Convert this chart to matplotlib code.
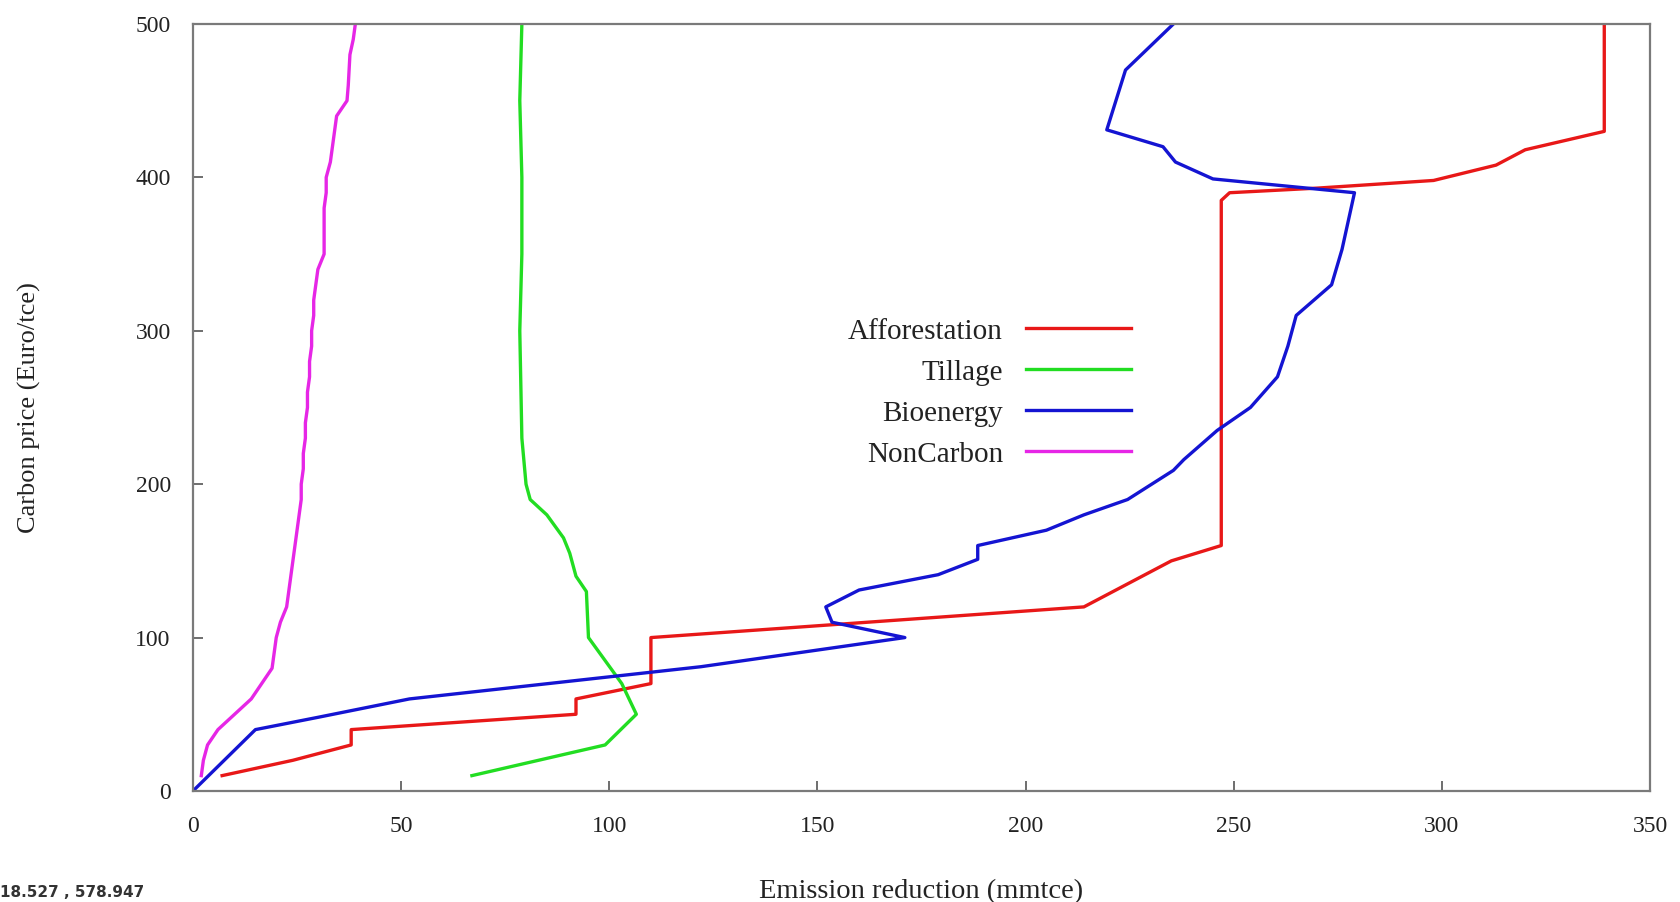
import matplotlib
matplotlib.use("Agg")
import matplotlib.pyplot as plt

plt.rcParams['font.family'] = ['Liberation Serif', 'DejaVu Serif']

# Carbon price (Euro/tce) vs emission reduction (mmtce) for each option
afforestation_x = [7, 24, 38, 38, 92, 92, 110, 110, 214, 235, 247, 247, 249, 270, 298, 313, 320, 339, 339]
afforestation_y = [10, 20, 30, 40, 50, 60, 70, 100, 120, 150, 160, 385, 390, 393, 398, 408, 418, 430, 500]

tillage_x = [67, 83, 99, 106.5, 103, 99, 95, 94.5, 92, 90.5, 89, 85, 81, 80, 79, 78.5, 79, 79, 78.5, 79]
tillage_y = [10, 20, 30, 50, 70, 85, 100, 130, 140, 155, 165, 180, 190, 200, 230, 300, 350, 400, 450, 500]

bioenergy_x = [0, 15, 30, 52, 122, 171, 153.5, 152, 160, 179, 188.5, 188.5, 205, 214, 224.5, 235.5, 238,
               246, 254, 260.5, 263, 265, 273.5, 276, 279, 245, 236, 233, 219.5, 224, 235.5]
bioenergy_y = [0, 40, 48, 60, 81, 100, 110, 120, 131, 141, 151, 160, 170, 180, 190, 209, 216,
               235, 250, 270, 290, 310, 330, 353, 390, 399, 410, 420, 431, 470, 500]

noncarbon_y = list(range(10, 510, 10))
noncarbon_x = [2, 2.5, 3.5, 6, 10, 14, 16.5, 19, 19.5, 20, 21, 22.5, 23, 23.5, 24, 24.5, 25, 25.5, 26, 26,
               26.5, 26.5, 27, 27, 27.5, 27.5, 28, 28, 28.5, 28.5, 29, 29, 29.5, 30, 31.5, 31.5, 31.5, 31.5,
               32, 32, 33, 33.5, 34, 34.5, 37, 37.3, 37.5, 37.7, 38.5, 39]

fig = plt.figure(figsize=(16.81, 9.02), dpi=100)
ax = fig.add_axes([0.1148, 0.1231, 0.8668, 0.8503])

lw = 2.4
ax.plot(afforestation_x, afforestation_y, color='#e81818', lw=lw, label='Afforestation')
ax.plot(tillage_x, tillage_y, color='#22dd22', lw=lw, label='Tillage')
ax.plot(bioenergy_x, bioenergy_y, color='#1414d2', lw=lw, label='Bioenergy')
ax.plot(noncarbon_x, noncarbon_y, color='#e626e6', lw=lw, label='NonCarbon')

ax.set_xlim(0, 350)
ax.set_ylim(0, 500)
ax.set_xticks(range(0, 351, 50))
ax.set_yticks(range(0, 501, 100))
ax.tick_params(axis='both', direction='in', length=7, width=1.2, colors='#555555',
               labelcolor='#222222', labelsize=17)
ax.tick_params(axis='x', pad=18)
ax.tick_params(axis='y', pad=16)
for s in ax.spines.values():
    s.set_color('#7a7a7a')
    s.set_linewidth(1.6)

ax.set_xlabel('Emission reduction (mmtce)', fontsize=20.5, color='#222222', labelpad=30)
ax.set_ylabel('Carbon price (Euro/tce)', fontsize=19, color='#222222', labelpad=68)

leg = ax.legend(loc='center right', bbox_to_anchor=(0.644, 0.519), frameon=False, markerfirst=False,
                fontsize=21, handlelength=3.6, handletextpad=0.8, labelspacing=0.5,
                borderpad=0, borderaxespad=0)
for t in leg.get_texts():
    t.set_color('#222222')

fig.text(0.0, 0.002, '18.527 , 578.947', fontsize=11, family='DejaVu Sans', fontweight='bold',
         color='#333333', va='bottom', ha='left')

fig.savefig('out.png', dpi=100)
